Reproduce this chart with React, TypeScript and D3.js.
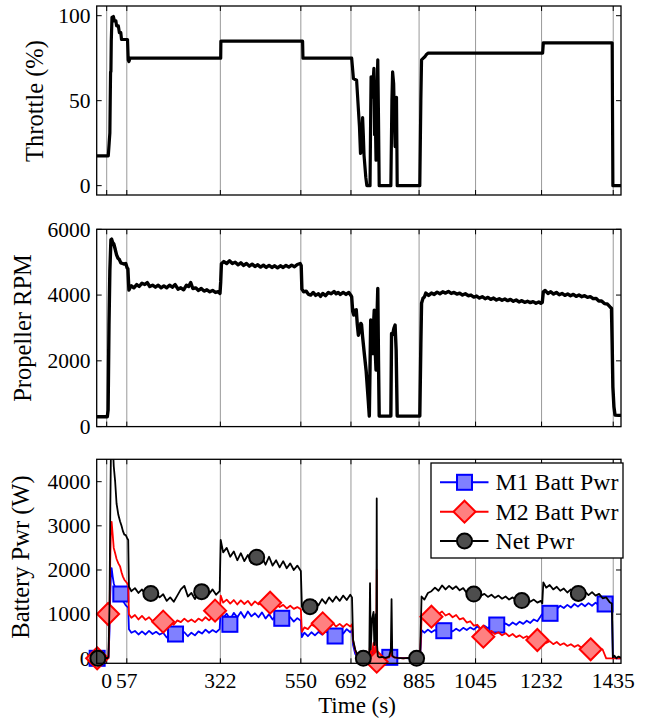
import React from "react";
import * as d3 from "d3";

// ---- axis ticks ----
const timeTicks = [0, 57, 322, 550, 692, 885, 1045, 1232, 1435];
const throttleTicks = [0, 50, 100];
const rpmTicks = [0, 2000, 4000, 6000];
const powerTicks = [0, 1000, 2000, 3000, 4000];

// ---- throttle command, [time s, %] ----
const throttleData: [number, number][] = [
  [-28, 17.5], [4.5, 17.5], [7, 25], [9, 31], [10, 50], [11, 67], [12, 67], [13, 85], [15, 99], [19, 99.5],
  [22, 97], [26, 97], [28, 94], [33, 94], [36, 90], [40, 90], [42, 86], [59, 86], [61, 74], [63, 73],
  [66, 75], [323, 75], [323.5, 85], [555, 85], [556, 75], [694, 75], [699, 63], [708, 62], [713, 45],
  [716, 35], [719, 19], [722, 20], [725, 40], [727, 30], [729, 18], [734, 5], [737, 0], [746, 0],
  [748, 45], [749, 64], [751, 60], [753, 52], [755, 62], [757, 69], [759, 30], [761, 40], [763, 15],
  [765, 50], [768, 74], [770, 40], [772, 0], [805, 0], [808, 50], [810, 67], [813, 60], [815, 40],
  [817, 23], [819, 45], [821, 52], [823, 0], [887, 0], [890, 50], [892, 74], [897, 75], [902, 76],
  [905, 77], [911, 78], [1235, 78], [1237, 84], [1432, 84], [1434, 0], [1457, 0],
];

// ---- propeller speed, [time s, rpm] ----
const rpmData: [number, number][] = [
  [-28, 300], [1.7, 300], [4, 500], [6.5, 3090], [9, 4760], [12, 5680], [14, 5700], [17, 5600], [20, 5560],
  [24, 5400], [28, 5220], [32, 5120], [36, 5080], [40, 4980], [45, 4960], [50, 4940], [54, 4960], [58, 4820],
  [60, 4800], [63, 4150], [66, 4220], [70, 4280], [77, 4220], [85, 4320], [92, 4260], [100, 4360], [108, 4320],
  [115, 4380], [122, 4260], [130, 4300], [138, 4240], [146, 4300], [154, 4220], [162, 4280], [170, 4220],
  [178, 4300], [186, 4240], [194, 4320], [202, 4180], [210, 4220], [218, 4160], [226, 4300], [232, 4260],
  [238, 4380], [244, 4200], [252, 4220], [260, 4140], [268, 4200], [276, 4120], [284, 4160], [292, 4100],
  [300, 4140], [308, 4080], [316, 4100], [321, 4050], [323, 4400], [325, 4950], [332, 5020], [340, 4960],
  [348, 5040], [356, 4960], [364, 5000], [372, 4920], [380, 4980], [388, 4900], [396, 4960], [404, 4880],
  [412, 4940], [420, 4870], [428, 4920], [436, 4850], [444, 4910], [452, 4840], [460, 4900], [468, 4840],
  [476, 4890], [484, 4830], [492, 4890], [500, 4840], [508, 4900], [516, 4850], [524, 4910], [532, 4860],
  [540, 4930], [548, 4960], [551, 4900], [553, 4180], [558, 4100], [565, 4120], [572, 4020], [578, 4000],
  [585, 4080], [592, 3990], [600, 4040], [606, 3960], [612, 4050], [620, 3980], [628, 4080], [636, 4040],
  [644, 4110], [650, 4040], [656, 4080], [662, 4020], [670, 4080], [678, 4020], [686, 4080], [692, 3990],
  [694, 3950], [697, 3500], [700, 3390], [704, 3540], [707, 3550], [710, 3100], [713, 2780], [717, 2950],
  [720, 3140], [722, 3100], [725, 2730], [730, 2200], [735, 1700], [741, 800], [744, 320], [746, 1800],
  [748, 3240], [750, 2800], [753, 2220], [755, 2900], [758, 3540], [760, 2500], [763, 1720], [765, 3000],
  [768, 4200], [770, 2000], [772, 320], [805, 320], [807, 2830], [810, 2800], [814, 3000], [817, 3090],
  [820, 2330], [823, 320], [887, 320], [890, 2500], [892, 3750], [896, 3900], [900, 3940], [904, 4060],
  [912, 3990], [920, 4060], [928, 4020], [936, 4090], [944, 4040], [952, 4100], [960, 4060], [968, 4110],
  [976, 4050], [984, 4080], [992, 4030], [1000, 4060], [1008, 4000], [1016, 4040], [1024, 3980], [1032, 4000],
  [1040, 3940], [1048, 3970], [1056, 3910], [1064, 3950], [1072, 3890], [1080, 3930], [1088, 3870],
  [1096, 3910], [1104, 3850], [1112, 3890], [1120, 3840], [1128, 3880], [1136, 3830], [1144, 3870],
  [1152, 3810], [1160, 3850], [1168, 3790], [1176, 3830], [1184, 3780], [1192, 3810], [1200, 3770],
  [1208, 3800], [1216, 3750], [1224, 3790], [1230, 3750], [1234, 3780], [1237, 4100], [1242, 4140],
  [1250, 4050], [1258, 4100], [1266, 4030], [1274, 4080], [1282, 4010], [1290, 4050], [1298, 3990],
  [1306, 4030], [1314, 3980], [1322, 4020], [1330, 3960], [1338, 4000], [1346, 3950], [1354, 3980],
  [1362, 3930], [1370, 3950], [1378, 3890], [1386, 3900], [1394, 3820], [1402, 3820], [1410, 3740],
  [1418, 3730], [1426, 3640], [1430, 3600], [1432, 2500], [1434, 1200], [1437, 600], [1440, 350],
  [1450, 340], [1457, 340],
];

// ---- battery power, shared sample times (s) ----
const powerTime = [
  -28, -20, -12, -4, 2, 5, 8, 10, 12, 14, 17, 20, 24, 28, 33, 38, 42, 46, 50, 54, 58, 61,
  63, 70, 80, 90, 100, 110, 120, 130, 140, 150, 160, 170, 180, 190, 200, 210, 220, 230, 240, 250, 260, 270, 280, 290, 300, 310, 320,
  323, 330, 340, 350, 360, 370, 380, 390, 400, 410, 420, 430, 440, 450, 460, 470, 480, 490, 500, 510, 520, 530, 540, 550,
  553, 560, 570, 580, 590, 600, 610, 620, 630, 640, 650, 660, 670, 680, 690, 695,
  698, 704, 710, 718, 726, 734, 740, 744, 746, 748, 752, 756, 758, 762, 764, 765, 766, 768, 772, 780, 790, 800, 805, 807, 809, 815, 825, 840, 855, 870, 885,
  888, 892, 900, 910, 920, 930, 940, 950, 960, 970, 980, 990, 1000, 1010, 1020, 1030, 1040, 1050, 1060, 1070, 1080, 1090, 1100, 1110, 1120, 1130, 1140, 1150, 1160, 1170, 1180, 1190, 1200, 1210, 1220, 1230, 1234,
  1237, 1245, 1255, 1265, 1275, 1285, 1295, 1305, 1315, 1325, 1335, 1345, 1355, 1365, 1375, 1385, 1395, 1405, 1415, 1425, 1431,
  1434, 1438, 1444, 1450, 1457,
];

const m1Power = [
  0, 0, 0, 0, 0, 10, 600, 1400, 1900, 2040, 1850, 1700, 1600, 1500, 1450, 1500, 1380, 1300, 1250, 1200, 1170, 1150,
  660, 580, 620, 540, 610, 540, 620, 550, 600, 540, 580, 470, 520, 460, 600, 560, 590, 500, 580, 520, 610, 560, 650, 580, 640, 590, 660,
  1100, 920, 1010, 880, 1030, 930, 1050, 920, 1060, 950, 1020, 930, 1040, 900, 1000, 880, 980, 860, 950, 840, 930, 830, 910, 850,
  480, 580, 500, 590, 520, 600, 540, 610, 560, 620, 530, 620, 560, 660, 590, 640,
  300, 100, 40, 20, 10, 20, 30, 60, 200, 40, 100, 250, 50, 80, 300, 600, 100, 30, 20, 20, 10, 30, 60, 200, 30, 10, 0, 10, 0, 10, 10,
  50, 640, 580, 650, 590, 640, 580, 660, 600, 670, 610, 670, 620, 690, 640, 700, 650, 720, 660, 740, 680, 750, 700, 770, 720, 790, 740, 810, 760, 830, 780, 850, 800, 880, 840, 960, 1000,
  1000, 1100, 1080, 1170, 1120, 1190, 1140, 1210, 1150, 1230, 1170, 1240, 1180, 1250, 1190, 1260, 1200, 1270, 1210, 1250, 1230,
  0, 10, 0, 0, 0,
];

const m2Power = [
  0, 0, 0, 0, 0, 20, 900, 2200, 2900, 3090, 2800, 2500, 2380, 2250, 2150, 2080, 1950, 1850, 1780, 1740, 1700, 1660,
  1000, 920, 980, 880, 960, 870, 930, 840, 900, 820, 870, 780, 830, 760, 860, 820, 900, 830, 880, 820, 900, 850, 930, 860, 940, 880, 960,
  1420, 1260, 1330, 1240, 1320, 1220, 1310, 1230, 1300, 1200, 1290, 1220, 1280, 1190, 1250, 1170, 1230, 1160, 1210, 1130, 1190, 1120, 1160, 1110,
  600, 700, 660, 760, 720, 820, 760, 840, 770, 800, 720, 780, 710, 780, 720, 770,
  400, 180, 60, 30, 20, 30, 40, 80, 300, 50, 150, 350, 60, 100, 500, 2000, 150, 40, 20, 10, 0, 20, 80, 300, 40, 20, 10, 0, 10, 0, 10,
  60, 900, 980, 1100, 1020, 1090, 1000, 1060, 970, 1010, 930, 980, 880, 910, 810, 840, 740, 760, 660, 680, 590, 620, 550, 590, 520, 570, 500, 550, 480, 520, 460, 500, 440, 470, 410, 440, 390,
  410, 350, 390, 320, 370, 300, 340, 280, 320, 260, 300, 240, 280, 220, 260, 210, 240, 200, 0, 0, 0,
  0, 0, 0, 0, 0,
];

const netPower = [
  0, 20, 0, 15, 0, 30, 1200, 3200, 4700, 5200, 4900, 4350, 4000, 3500, 3250, 3100, 3000, 2880, 2800, 2790, 2720, 2680,
  1620, 1520, 1590, 1480, 1560, 1440, 1540, 1420, 1480, 1380, 1450, 1300, 1380, 1280, 1420, 1560, 1640, 1400, 1480, 1340, 1500, 1420, 1580, 1460, 1560, 1440, 1520,
  2680, 2400, 2500, 2300, 2420, 2220, 2380, 2200, 2340, 2160, 2320, 2180, 2280, 2120, 2300, 2100, 2220, 2060, 2200, 2040, 2150, 2000, 2100, 1980,
  1180, 1080, 1200, 1100, 1300, 1200, 1340, 1240, 1380, 1280, 1400, 1300, 1420, 1320, 1440, 1380,
  420, 200, 80, 40, 20, 30, 60, 150, 1700, 200, 900, 1050, 300, 1000, 300, 3620, 300, 50, 20, 30, 10, 40, 200, 1340, 60, 20, 10, 0, 10, 0, 20,
  100, 1400, 1330, 1480, 1520, 1600, 1530, 1650, 1560, 1640, 1570, 1630, 1540, 1590, 1480, 1520, 1440, 1480, 1420, 1460, 1390, 1440, 1370, 1420, 1350, 1400, 1330, 1380, 1310, 1370, 1290, 1350, 1280, 1330, 1260, 1300, 1240,
  1720, 1600, 1660, 1560, 1620, 1530, 1580, 1490, 1560, 1470, 1540, 1450, 1510, 1430, 1500, 1420, 1460, 1360, 1380, 1270, 1240,
  20, 60, 0, 40, 10,
];

// ---- marker samples, [time s, W] ----
const m1Markers: [number, number][] = [
  [-27, 0], [40, 1456], [195, 550], [349, 770], [496, 906], [647, 505], [802, 22], [955, 625], [1105, 754], [1256, 1019], [1412, 1230],
];
const m2Markers: [number, number][] = [
  [-27, 0], [4, 1003], [160, 830], [307, 1079], [463, 1260], [612, 792], [765, -77], [920, 943], [1067, 490], [1220, 415], [1371, 204],
];
const netMarkers: [number, number][] = [
  [-25, 0], [125, 1470], [269, 1510], [425, 2290], [576, 1170], [727, 0], [878, 0], [1040, 1455], [1176, 1307], [1336, 1470],
];

const seriesNames = ["M1 Batt Pwr", "M2 Batt Pwr", "Net Pwr"];

const FONT = "'Liberation Serif', 'Times New Roman', Times, serif";

type Pt = [number, number];

function zip(t: number[], v: number[]): Pt[] {
  const n = Math.min(t.length, v.length);
  const out: Pt[] = [];
  for (let i = 0; i < n; i++) out.push([t[i], v[i]]);
  return out;
}

function Marker({ kind, cx, cy }: { kind: string; cx: number; cy: number }) {
  if (kind === "square") {
    return <rect x={cx - 7.5} y={cy - 7.5} width={15} height={15} fill="#8080ff" stroke="#0000ff" strokeWidth={2} />;
  }
  if (kind === "diamond") {
    const r = 11;
    return (
      <polygon
        points={`${cx},${cy - r} ${cx + r},${cy} ${cx},${cy + r} ${cx - r},${cy}`}
        fill="#ff8080"
        stroke="#ff0000"
        strokeWidth={2}
      />
    );
  }
  return <circle cx={cx} cy={cy} r={7.5} fill="#4d4d4d" stroke="#000" strokeWidth={2} />;
}

export default function App() {
  const W = 651;
  const H = 721;
  const left = 96.7;
  const right = 621;
  const x = d3.scaleLinear().domain([-28.3, 1457]).range([left, right]);

  const yThr = d3.scaleLinear().domain([-5.5, 105.7]).range([195, 6]);
  const yRpm = d3.scaleLinear().domain([0, 6000]).range([426.6, 229.3]);
  const yPwr = d3.scaleLinear().domain([-113, 4507]).range([663.3, 459.3]);

  const panels = [
    { id: "thr", y: yThr, ticks: throttleTicks, label: "Throttle (%)", labelX: 42.5, labelY: 101 },
    { id: "rpm", y: yRpm, ticks: rpmTicks, label: "Propeller RPM", labelX: 31, labelY: 328 },
    { id: "pwr", y: yPwr, ticks: powerTicks, label: "Battery Pwr (W)", labelX: 28.5, labelY: 557 },
  ];

  const tickLen = 5;
  const tickFont = 21.5;

  const mkLine = (y: d3.ScaleLinear<number, number>) =>
    d3
      .line<Pt>()
      .x((d) => x(d[0]))
      .y((d) => y(d[1]));

  const m1 = zip(powerTime, m1Power);
  const m2 = zip(powerTime, m2Power);
  const net = zip(powerTime, netPower);

  const series = [
    { name: seriesNames[0], data: m1, color: "#0000ff", marker: "square", markers: m1Markers },
    { name: seriesNames[1], data: m2, color: "#ff0000", marker: "diamond", markers: m2Markers },
    { name: seriesNames[2], data: net, color: "#000000", marker: "circle", markers: netMarkers },
  ];

  const legend = { x: 431, y: 463, w: 192, h: 95 };
  const legendRows = [482.3, 511.7, 541];

  return (
    <svg width={W} height={H} viewBox={`0 0 ${W} ${H}`} style={{ display: "block", position: "absolute", left: 0, top: 0, background: "#fff" }}>
      <rect x={0} y={0} width={W} height={H} fill="#fff" />
      <defs>
        {panels.map((p) => {
          const [y0, y1] = p.y.range();
          return (
            <clipPath id={`clip-${p.id}`} key={p.id}>
              <rect x={left} y={y1} width={right - left} height={y0 - y1} />
            </clipPath>
          );
        })}
      </defs>

      {panels.map((p) => {
        const [yb, yt] = p.y.range();
        return (
          <g key={p.id} fontFamily={FONT}>
            {/* vertical grid at phase boundaries */}
            {timeTicks.map((t) => (
              <line key={`g${t}`} x1={x(t)} x2={x(t)} y1={yt} y2={yb} stroke="#999" strokeWidth={1} />
            ))}
            {/* x ticks top and bottom */}
            {timeTicks.map((t) => (
              <g key={`xt${t}`}>
                <line x1={x(t)} x2={x(t)} y1={yb} y2={yb - tickLen} stroke="#000" strokeWidth={1} />
                <line x1={x(t)} x2={x(t)} y1={yt} y2={yt + tickLen} stroke="#000" strokeWidth={1} />
              </g>
            ))}
            {/* y ticks left and right */}
            {p.ticks.map((v) => (
              <g key={`yt${v}`}>
                <line x1={left} x2={left + tickLen} y1={p.y(v)} y2={p.y(v)} stroke="#000" strokeWidth={1} />
                <line x1={right} x2={right - tickLen} y1={p.y(v)} y2={p.y(v)} stroke="#000" strokeWidth={1} />
                <text x={90.5} y={p.y(v)} dy="0.34em" textAnchor="end" fontSize={tickFont} fill="#000">
                  {v}
                </text>
              </g>
            ))}
            <text
              transform={`translate(${p.labelX},${p.labelY}) rotate(-90)`}
              textAnchor="middle"
              fontSize={24.5}
              fill="#000"
            >
              {p.label}
            </text>
          </g>
        );
      })}

      {/* throttle */}
      <path d={mkLine(yThr)(throttleData) ?? ""} fill="none" stroke="#000" strokeWidth={3.2} strokeLinejoin="round" clipPath="url(#clip-thr)" />
      {/* propeller rpm */}
      <path d={mkLine(yRpm)(rpmData) ?? ""} fill="none" stroke="#000" strokeWidth={3.4} strokeLinejoin="round" clipPath="url(#clip-rpm)" />

      {/* battery power */}
      {series.map((s) => (
        <g key={s.name}>
          <path d={mkLine(yPwr)(s.data) ?? ""} fill="none" stroke={s.color} strokeWidth={1.8} strokeLinejoin="round" clipPath="url(#clip-pwr)" />
          {s.markers.map((m, i) => (
            <Marker key={i} kind={s.marker} cx={x(m[0])} cy={yPwr(m[1])} />
          ))}
        </g>
      ))}

      {/* axes boxes */}
      {panels.map((p) => {
        const [yb, yt] = p.y.range();
        return <rect key={`box-${p.id}`} x={left} y={yt} width={right - left} height={yb - yt} fill="none" stroke="#000" strokeWidth={1.3} />;
      })}

      {/* x tick labels */}
      <g fontFamily={FONT} fontSize={tickFont} textAnchor="middle">
        {timeTicks.map((t) => (
          <text key={`xl${t}`} x={x(t)} y={688}>
            {t}
          </text>
        ))}
        <text x={357} y={713} fontSize={23}>
          Time (s)
        </text>
      </g>

      {/* legend */}
      <g fontFamily={FONT}>
        <rect x={legend.x} y={legend.y} width={legend.w} height={legend.h} fill="#fff" stroke="#000" strokeWidth={1.3} />
        {series.map((s, i) => (
          <g key={`lg${i}`}>
            <line x1={440} x2={488.5} y1={legendRows[i]} y2={legendRows[i]} stroke={s.color} strokeWidth={2} />
            <Marker kind={s.marker} cx={464.5} cy={legendRows[i]} />
            <text x={495.5} y={legendRows[i]} dy="0.34em" fontSize={23.8} fill="#000">
              {s.name}
            </text>
          </g>
        ))}
      </g>
    </svg>
  );
}
